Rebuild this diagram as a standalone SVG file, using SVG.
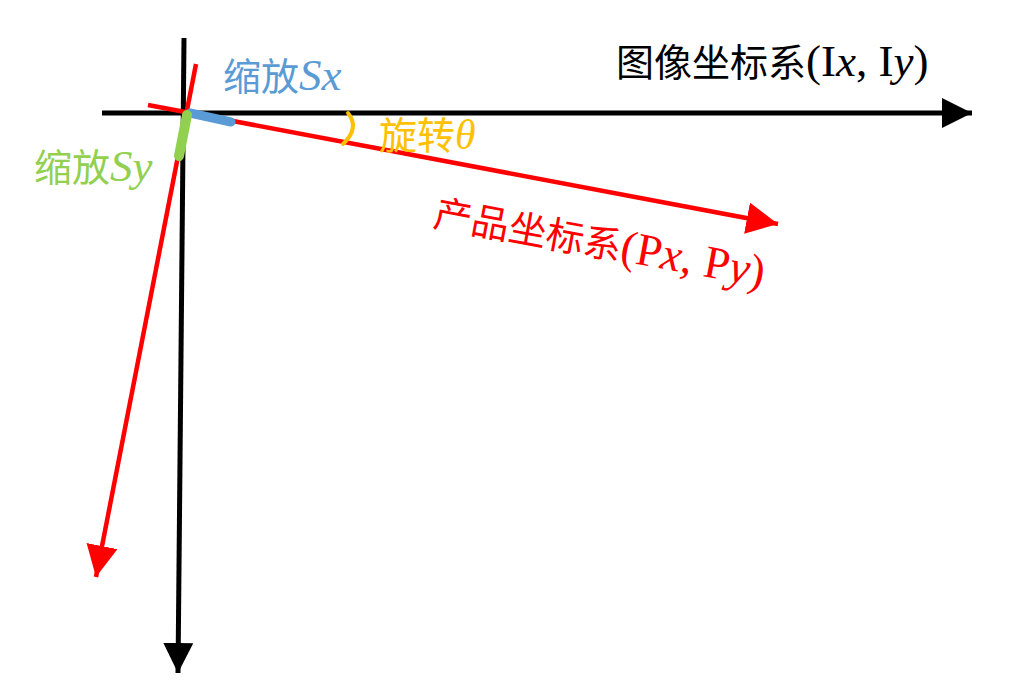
<svg xmlns="http://www.w3.org/2000/svg" width="1011" height="697" viewBox="0 0 1011 697">
<style>
.cjk{font-family:"Noto Sans CJK SC","Noto Sans",sans-serif;font-size:38px}
</style>
<defs>
<marker id="ab" viewBox="0 0 10 10" refX="10" refY="5" markerWidth="6" markerHeight="6" markerUnits="strokeWidth" orient="auto"><path d="M0,0 L10,5 L0,10 Z" fill="#000"/></marker>
<marker id="ar" viewBox="0 0 10 10" refX="10" refY="5" markerWidth="7" markerHeight="7" markerUnits="strokeWidth" orient="auto"><path d="M0,0 L10,5 L0,10 Z" fill="#FF0000"/></marker>
</defs>
<rect width="1011" height="697" fill="#fff"/>
<g id="connectors">
<line x1="102" y1="113" x2="972" y2="113" stroke="#000" stroke-width="5" marker-end="url(#ab)"/>
<line x1="184" y1="38" x2="178" y2="673" stroke="#000" stroke-width="5" marker-end="url(#ab)"/>
<line x1="148" y1="105" x2="778" y2="224" stroke="#FF0000" stroke-width="4.5" marker-end="url(#ar)"/>
<line x1="196" y1="64" x2="96" y2="577" stroke="#FF0000" stroke-width="4.5" marker-end="url(#ar)"/>
</g>
<g id="scale-x">
<line x1="190" y1="113" x2="231" y2="122" stroke="#5B9BD5" stroke-width="9" stroke-linecap="round"/>
<text x="223" y="90" class="cjk" fill="#5B9BD5">缩放<tspan font-family="Liberation Serif, serif" font-style="italic" font-size="45">Sx</tspan></text>
</g>
<g id="scale-y">
<line x1="187" y1="115" x2="179" y2="156" stroke="#92D050" stroke-width="10" stroke-linecap="round"/>
<text x="34" y="181" class="cjk" fill="#92D050">缩放<tspan font-family="Liberation Serif, serif" font-style="italic" font-size="45">Sy</tspan></text>
</g>
<g id="rotation">
<path d="M348,113 Q360,128 343,144" fill="none" stroke="#FFC000" stroke-width="4" stroke-linecap="round"/>
<text x="379" y="149" class="cjk" fill="#FFC000" font-size="36">旋转<tspan font-family="Liberation Serif, serif" font-style="italic" font-size="42">θ</tspan></text>
</g>
<g id="image-frame">
<text x="616" y="76" class="cjk" fill="#000" font-size="40">图像坐标系<tspan font-family="Liberation Serif, serif" font-size="45">(I<tspan font-style="italic">x</tspan>, I<tspan font-style="italic">y</tspan>)</tspan></text>
</g>
<g id="product-frame">
<text x="432" y="226" class="cjk" fill="#FF0000" font-size="39" transform="rotate(10.5 432 226)">产品坐标系<tspan font-family="Liberation Serif, serif" font-size="46">(P<tspan font-style="italic">x</tspan>, P<tspan font-style="italic">y</tspan>)</tspan></text>
</g>
</svg>
